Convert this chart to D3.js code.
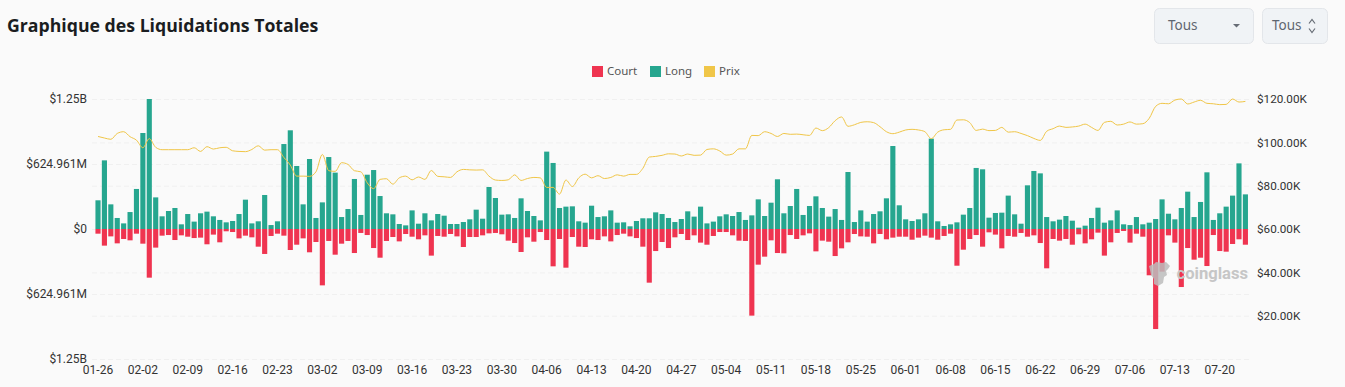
<!DOCTYPE html>
<html lang="fr">

<head>
    <meta charset="utf-8">
    <title>Graphique des Liquidations Totales</title>
    <script src="https://d3js.org/d3.v7.min.js"></script>
    <style>
        html, body { margin: 0; padding: 0; background: #fafafa; overflow: hidden; }
        svg { display: block; }
        .axis text { font-family: Roboto, sans-serif; font-size: 12px; fill: #333; }
        .axis.right text { font-size: 11.7px; }
        .axis path, .axis line { display: none; }
        .grid line { stroke: #f0f0f0; stroke-width: 1; stroke-dasharray: 5 3; }
        .legend text { font-family: "Noto Sans", sans-serif; font-size: 11.5px; fill: #555; }
    </style>
</head>

<body>
    <div id="chart"></div>
    <script>
        const FIRST_DAY = "2025-01-26";

        // Liquidations per day, millions of dollars.
        const longValues = [276, 660, 237, 106, 54, 163, 385, 923, 1250, 304, 122, 173, 202, 45, 144, 71, 151, 167, 122, 87,
            64, 77, 144, 282, 54, 74, 327, 38, 74, 817, 949, 606, 237, 673, 106, 256, 692, 542, 115, 192,
            481, 135, 522, 567, 317, 151, 141, 48, 35, 179, 51, 151, 83, 144, 128, 48, 48, 67, 93, 186,
            99, 404, 298, 138, 141, 106, 295, 173, 125, 83, 744, 635, 202, 215, 218, 74, 61, 224, 115, 122,
            179, 61, 64, 26, 77, 103, 103, 160, 144, 106, 67, 96, 170, 119, 215, 54, 71, 122, 141, 125,
            163, 87, 131, 285, 125, 253, 478, 151, 221, 385, 135, 221, 314, 202, 119, 192, 87, 548, 67, 179,
            71, 144, 170, 295, 798, 228, 93, 77, 93, 151, 869, 74, 29, 45, 64, 138, 202, 587, 574, 109,
            154, 157, 321, 141, 51, 420, 558, 535, 115, 74, 90, 125, 80, 13, 32, 106, 205, 61, 83, 179,
            45, 38, 115, 45, 61, 96, 285, 147, 93, 202, 359, 115, 260, 545, 87, 151, 215, 321, 631, 333];

        const shortValues = [45, 160, 71, 138, 96, 109, 45, 141, 468, 179, 64, 58, 106, 61, 74, 87, 83, 147, 54, 128,
            22, 29, 90, 64, 80, 170, 240, 67, 45, 64, 202, 151, 90, 224, 125, 542, 115, 247, 141, 115,
            231, 38, 58, 183, 276, 115, 77, 119, 48, 74, 99, 61, 256, 67, 74, 48, 71, 173, 77, 77,
            61, 42, 38, 51, 112, 135, 221, 80, 122, 29, 106, 359, 96, 372, 77, 170, 173, 99, 106, 71,
            119, 58, 45, 71, 87, 170, 516, 212, 125, 183, 80, 48, 106, 61, 131, 151, 67, 29, 29, 61,
            112, 115, 833, 343, 266, 109, 231, 234, 58, 96, 61, 42, 215, 112, 122, 260, 186, 128, 48, 71,
            74, 138, 48, 99, 83, 74, 74, 103, 83, 64, 83, 103, 67, 45, 353, 199, 96, 58, 170, 32,
            54, 186, 67, 74, 38, 74, 61, 135, 378, 96, 112, 96, 151, 51, 138, 99, 35, 256, 128, 38,
            19, 131, 45, 74, 445, 962, 410, 61, 131, 558, 183, 295, 276, 356, 58, 212, 218, 144, 99, 151];

        // Price per day, thousands of dollars.
        const priceValues = [102.7, 102.0, 101.4, 104.1, 104.9, 102.6, 101.0, 97.5, 101.7, 97.7,
            96.6, 96.6, 96.6, 96.6, 96.6, 97.5, 95.8, 98.0, 96.9, 97.5,
            97.7, 96.1, 95.8, 95.7, 96.7, 98.4, 96.4, 96.6, 96.6, 93.0,
            89.5, 84.4, 84.4, 84.3, 86.4, 94.4, 86.9, 86.6, 90.6, 89.8,
            86.9, 86.4, 81.3, 78.6, 82.9, 83.2, 80.7, 83.6, 84.4, 82.7,
            84.0, 82.9, 87.0, 84.3, 84.1, 83.8, 86.4, 87.5, 87.3, 87.2,
            87.3, 84.4, 82.6, 82.4, 82.7, 85.0, 82.4, 83.3, 83.8, 83.6,
            79.2, 79.2, 76.1, 82.6, 79.6, 83.6, 85.3, 83.6, 84.6, 83.3,
            83.8, 85.0, 84.4, 85.2, 85.2, 88.0, 93.2, 93.5, 94.0, 94.7,
            94.6, 93.7, 94.6, 94.0, 94.1, 96.7, 97.0, 96.0, 94.1, 94.6,
            97.0, 97.0, 103.2, 103.1, 104.9, 104.1, 102.7, 104.1, 103.7, 103.8,
            103.5, 103.2, 106.6, 105.4, 106.8, 110.0, 111.7, 107.4, 108.1, 109.2,
            109.5, 109.1, 107.2, 104.9, 104.0, 104.7, 105.7, 106.0, 105.7, 104.9,
            101.7, 104.7, 105.8, 106.0, 110.3, 110.4, 109.1, 105.5, 106.1, 105.4,
            105.5, 106.9, 104.7, 104.9, 104.1, 103.1, 101.8, 100.9, 105.1, 106.3,
            107.5, 106.9, 107.1, 107.5, 108.4, 106.9, 105.5, 109.2, 109.7, 108.0,
            108.4, 109.4, 108.4, 108.6, 111.1, 116.6, 118.0, 117.8, 119.5, 120.0,
            117.7, 118.6, 119.4, 118.0, 117.8, 117.4, 117.5, 120.0, 118.6, 118.9];

        const dateTicks = ["01-26", "02-02", "02-09", "02-16", "02-23", "03-02", "03-09", "03-16", "03-23", "03-30",
            "04-06", "04-13", "04-20", "04-27", "05-04", "05-11", "05-18", "05-25", "06-01", "06-08",
            "06-15", "06-22", "06-29", "07-06", "07-13", "07-20"];
        const leftTicks = [1250, 624.961, 0, -624.961, -1250];
        const rightTicks = [120, 100, 80, 60, 40, 20];
        const legendItems = ["Court", "Long", "Prix"];

        const RED = "#ef3450", GREEN = "#26a68f", YELLOW = "#f0c648";
        const totalWidth = 1345, totalHeight = 387;

        const svg = d3.select("#chart").append("svg")
            .attr("width", totalWidth)
            .attr("height", totalHeight);

        // One label per day, the data only carries the day order.
        const parseDay = d3.utcParse("%Y-%m-%d");
        const formatDay = d3.utcFormat("%m-%d");
        const start = parseDay(FIRST_DAY);
        const days = longValues.map((d, i) => formatDay(d3.utcDay.offset(start, i)));

        const x = d3.scaleBand().domain(days).range([94.8, 1248.6]).paddingInner(0.2).paddingOuter(0.1);
        const yLeft = d3.scaleLinear().domain([-1250, 1250]).range([359, 99]);
        const yRight = d3.scaleLinear().domain([0, 120]).range([359, 99]);

        // Grid from both axes.
        const grid = svg.append("g").attr("class", "grid");
        grid.selectAll(".gl").data(leftTicks).enter().append("line")
            .attr("x1", 92).attr("x2", 1251)
            .attr("y1", d => yLeft(d) + 0.5).attr("y2", d => yLeft(d) + 0.5);
        grid.selectAll(".gr").data(rightTicks).enter().append("line")
            .attr("x1", 92).attr("x2", 1251)
            .attr("y1", d => yRight(d) + 0.5).attr("y2", d => yRight(d) + 0.5);

        // Bars.
        svg.append("g").selectAll("rect").data(longValues).enter().append("rect")
            .attr("fill", GREEN)
            .attr("x", (d, i) => x(days[i]))
            .attr("width", x.bandwidth())
            .attr("y", d => yLeft(d))
            .attr("height", d => yLeft(0) - yLeft(d));
        svg.append("g").selectAll("rect").data(shortValues).enter().append("rect")
            .attr("fill", RED)
            .attr("x", (d, i) => x(days[i]))
            .attr("width", x.bandwidth())
            .attr("y", yLeft(0))
            .attr("height", d => yLeft(-d) - yLeft(0));

        // Price.
        const line = d3.line()
            .x((d, i) => x(days[i]) + x.bandwidth() / 2)
            .y(d => yRight(d))
            .curve(d3.curveMonotoneX);
        svg.append("path").datum(priceValues)
            .attr("fill", "none")
            .attr("stroke", YELLOW)
            .attr("stroke-width", 1)
            .attr("d", line);

        // Axes.
        const moneyLeft = d => d === 0 ? "$0" : Math.abs(d) >= 1000 ? "$" + Math.abs(d) / 1000 + "B" : "$" + Math.abs(d) + "M";
        svg.append("g").attr("class", "axis")
            .attr("transform", "translate(87,0)")
            .call(d3.axisLeft(yLeft).tickValues(leftTicks).tickSize(0).tickPadding(0).tickFormat(moneyLeft));
        svg.append("g").attr("class", "axis right")
            .attr("transform", "translate(1257,0)")
            .call(d3.axisRight(yRight).tickValues(rightTicks).tickSize(0).tickPadding(0).tickFormat(d => "$" + d.toFixed(2) + "K"));
        svg.append("g").attr("class", "axis")
            .attr("transform", "translate(0,365)")
            .call(d3.axisBottom(x).tickValues(dateTicks).tickSize(0).tickPadding(0));

        // Legend.
        const legendColors = d3.scaleOrdinal().domain(legendItems).range([RED, GREEN, YELLOW]);
        const legendX = d3.scaleOrdinal().domain(legendItems).range([592, 650, 704]);
        const legend = svg.append("g").attr("class", "legend");
        legend.selectAll("rect").data(legendItems).enter().append("rect")
            .attr("x", d => legendX(d)).attr("y", 66)
            .attr("width", 11).attr("height", 11)
            .attr("fill", d => legendColors(d));
        legend.selectAll("text").data(legendItems).enter().append("text")
            .attr("x", d => legendX(d) + 15).attr("y", 75)
            .text(d => d);

        // Title.
        svg.append("text")
            .attr("x", 7).attr("y", 32)
            .attr("font-family", "'Open Sans', sans-serif")
            .attr("font-weight", 700)
            .attr("font-size", 17.7)
            .attr("fill", "#1a1d21")
            .text("Graphique des Liquidations Totales");

        // The two selectors at the top right.
        const controls = svg.append("g");
        controls.append("rect").attr("x", 1154.5).attr("y", 8.5).attr("width", 99).attr("height", 35).attr("rx", 5)
            .attr("fill", "#f0f3f6").attr("stroke", "#e3e6ea");
        controls.append("rect").attr("x", 1262.5).attr("y", 8.5).attr("width", 65).attr("height", 35).attr("rx", 5)
            .attr("fill", "#f0f3f6").attr("stroke", "#e3e6ea");
        controls.selectAll("text").data([1168, 1272]).enter().append("text")
            .attr("x", d => d).attr("y", 30)
            .attr("font-family", "'Noto Sans', sans-serif")
            .attr("font-size", 13.5)
            .attr("fill", "#5f6670")
            .text("Tous");
        controls.append("path").attr("d", "M1233 24h7l-3.5 3.5z").attr("fill", "#666c75");
        controls.append("path").attr("d", "M1309 23.5l3-4 3 4M1309 28.5l3 4 3-4")
            .attr("fill", "none").attr("stroke", "#666c75").attr("stroke-width", 1.2);

        // Watermark.
        svg.append("path")
            .attr("d", "M1149 266l5-2 2-2 6 1 4-1 4 4-2 3-2 2 1 4-3 2-1 6-5 3-4-2 0-5-3-4-1-5z")
            .attr("fill", "#bcbcbc")
            .attr("opacity", 0.85);
        svg.append("text")
            .attr("x", 1176.5).attr("y", 279)
            .attr("font-family", "Roboto, sans-serif")
            .attr("font-weight", 700)
            .attr("font-size", 16.6)
            .attr("fill", "#c6c6c6")
            .text("coinglass");
    </script>
</body>

</html>
